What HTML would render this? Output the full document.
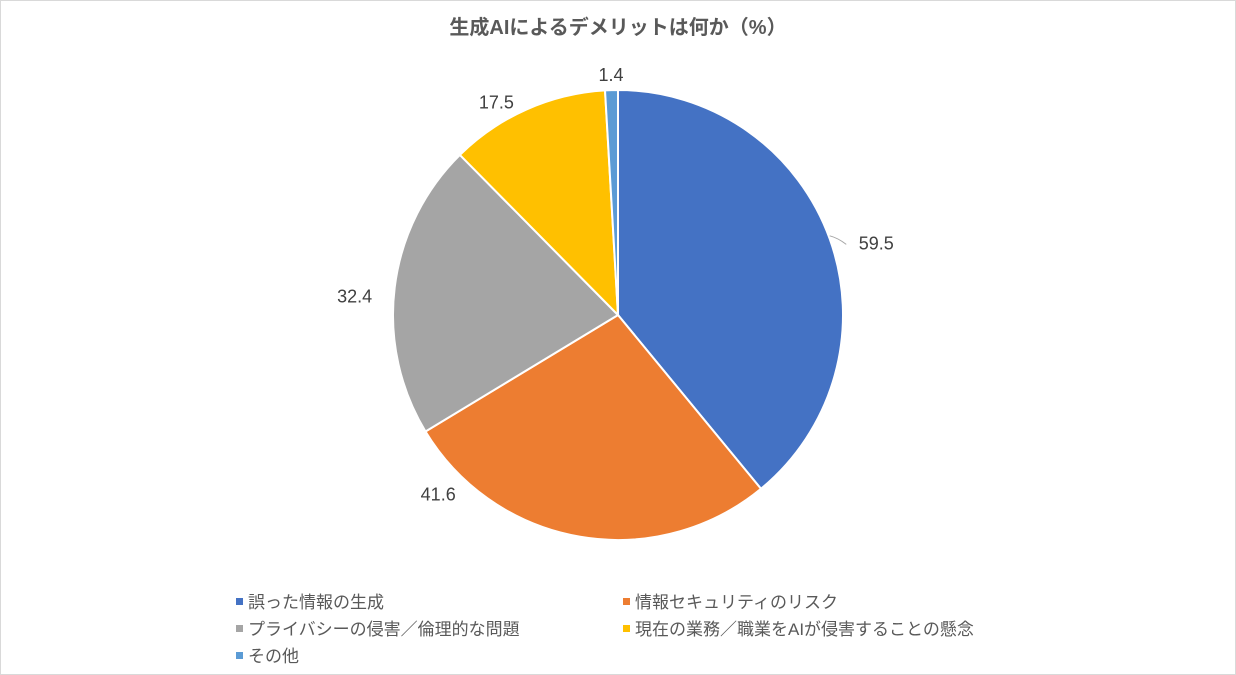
<!DOCTYPE html>
<html><head><meta charset="utf-8"><style>
html,body{margin:0;padding:0;background:#fff;}
body{width:1236px;height:675px;overflow:hidden;position:relative;font-family:"Liberation Sans","Noto Sans CJK JP",sans-serif;color:#595959;}
#frame{position:absolute;left:0;top:0;width:1234px;height:673px;border:1px solid #d9d9d9;}
#title{position:absolute;left:0;width:1236px;top:11px;text-align:center;font-size:20px;font-weight:bold;color:#595959;}
.leg{position:absolute;font-size:17px;line-height:20px;white-space:nowrap;}
.leg i{display:inline-block;width:7px;height:7px;margin-right:5px;vertical-align:3px;}
</style></head><body>
<div id="frame"></div>
<div id="title">生成AIによるデメリットは何か（%）</div>
<svg id="pie" width="1236" height="675" style="position:absolute;left:0;top:0"></svg>
<div class="leg" style="left:236px;top:593px"><i style="background:#4472C4"></i>誤った情報の生成</div>
<div class="leg" style="left:623px;top:593px"><i style="background:#ED7D31"></i>情報セキュリティのリスク</div>
<div class="leg" style="left:236px;top:620px"><i style="background:#A5A5A5"></i>プライバシーの侵害／倫理的な問題</div>
<div class="leg" style="left:623px;top:620px"><i style="background:#FFC000"></i>現在の業務／職業をAIが侵害することの懸念</div>
<div class="leg" style="left:236px;top:647px"><i style="background:#5B9BD5"></i>その他</div>
<script>
const categories=["misinformation","security","privacy","jobs","other"];
const values=[59.5,41.6,32.4,17.5,1.4];
const labels=["59.5","41.6","32.4","17.5","1.4"];
const colors=["#4472C4","#ED7D31","#A5A5A5","#FFC000","#5B9BD5"];
const labelFrac=[0.53,0.86,0.46,0.36,0.5];
const labelR=[268,254,264,245,240];
const cx=618,cy=315,R=225;
const svg=document.getElementById('pie');
const NS="http://www.w3.org/2000/svg";
const total=values.reduce((a,b)=>a+b,0);
function pt(angDeg,r){const a=angDeg*Math.PI/180;return [cx+r*Math.sin(a),cy-r*Math.cos(a)];}
let start=0;
values.forEach((v,i)=>{
  const span=v/total*360,end=start+span;
  const p1=pt(start,R),p2=pt(end,R);
  const path=document.createElementNS(NS,'path');
  path.setAttribute('d',`M${cx},${cy}L${p1[0]},${p1[1]}A${R},${R} 0 ${span>180?1:0} 1 ${p2[0]},${p2[1]}Z`);
  path.setAttribute('fill',colors[i]);path.setAttribute('stroke','#fff');path.setAttribute('stroke-width','2');
  
  
  svg.appendChild(path);
  const la=start+span*labelFrac[i];
  const lp=pt(la,labelR[i]);
  if(i===0){
    const e=pt(la-5,R+1);
    const ln=document.createElementNS(NS,'path');
    ln.setAttribute('d',`M${e[0]},${e[1]} Q${e[0]+8},${e[1]+2} ${lp[0]-30},${lp[1]+1}`);
    ln.setAttribute('fill','none');ln.setAttribute('stroke','#a6a6a6');ln.setAttribute('stroke-width','1');
    
    
    svg.appendChild(ln);
  }
  const t=document.createElementNS(NS,'text');
  t.setAttribute('x',lp[0]);t.setAttribute('y',lp[1]+6);t.setAttribute('text-anchor','middle');
  t.setAttribute('font-size','18');t.setAttribute('fill','#404040');
  t.setAttribute('font-family','"Liberation Sans",sans-serif');
  t.textContent=labels[i];
  
  
  svg.appendChild(t);
  start=end;
});
</script>
</body></html>
